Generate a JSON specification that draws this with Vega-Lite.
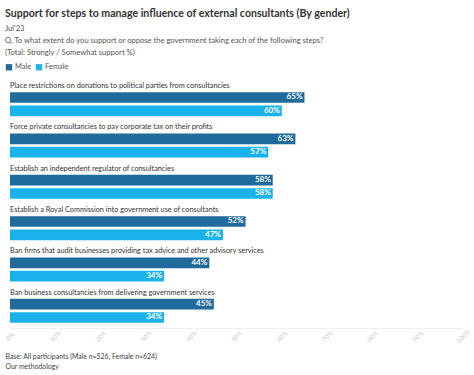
{
  "$schema": "https://vega.github.io/schema/vega-lite/v6.json",
  "width": 453,
  "height": 248,
  "autosize": {"type": "none"},
  "padding": {"left": 10, "top": 80, "right": 11, "bottom": 47},
  "background": "white",
  "config": {
    "font": "Lato",
    "view": {"stroke": null}
  },
  "title": {
    "text": "Support for steps to manage influence of external consultants (By gender)",
    "subtitle": ["Jul'23", "Q. To what extent do you support or oppose the government taking each of the following steps?", "(Total: Strongly / Somewhat support %)"],
    "anchor": "start",
    "frame": "group",
    "dx": -5,
    "fontSize": 10.6,
    "fontWeight": "bold",
    "color": "#333333",
    "subtitleFontSize": 7.6,
    "subtitleColor": "#555555",
    "subtitleLineHeight": 12,
    "subtitlePadding": 6,
    "offset": 6
  },
  "data": {
    "values": [
      {"category": "Place restrictions on donations to political parties from consultancies", "gender": "Male", "value": 65},
      {"category": "Place restrictions on donations to political parties from consultancies", "gender": "Female", "value": 60},
      {"category": "Force private consultancies to pay corporate tax on their profits", "gender": "Male", "value": 63},
      {"category": "Force private consultancies to pay corporate tax on their profits", "gender": "Female", "value": 57},
      {"category": "Establish an independent regulator of consultancies", "gender": "Male", "value": 58},
      {"category": "Establish an independent regulator of consultancies", "gender": "Female", "value": 58},
      {"category": "Establish a Royal Commission into government use of consultants", "gender": "Male", "value": 52},
      {"category": "Establish a Royal Commission into government use of consultants", "gender": "Female", "value": 47},
      {"category": "Ban firms that audit businesses providing tax advice and other advisory services", "gender": "Male", "value": 44},
      {"category": "Ban firms that audit businesses providing tax advice and other advisory services", "gender": "Female", "value": 34},
      {"category": "Ban business consultancies from delivering government services", "gender": "Male", "value": 45},
      {"category": "Ban business consultancies from delivering government services", "gender": "Female", "value": 34}
    ]
  },
  "encoding": {
    "y": {
      "field": "category",
      "type": "nominal",
      "sort": null,
      "axis": null,
      "scale": {"paddingInner": 0, "paddingOuter": 0}
    }
  },
  "layer": [
    {
      "mark": {"type": "bar"},
      "encoding": {
        "x": {
          "field": "value",
          "type": "quantitative",
          "scale": {"domain": [0, 100]},
          "axis": {
            "values": [0, 10, 20, 30, 40, 50, 60, 70, 80, 90, 100],
            "labelExpr": "datum.value + '%'",
            "labelAngle": -45,
            "labelAlign": "center",
            "labelBaseline": "middle",
            "labelColor": "#cccccc",
            "labelFontSize": 6.5,
            "labelPadding": 8,
            "labelOverlap": false,
            "labelBound": false,
            "ticks": false,
            "grid": false,
            "domainColor": "#eeeeee",
            "title": ["Base: All participants (Male n=526, Female n=624)", "Our methodology"],
            "titleAnchor": "start",
            "titleAlign": "left",
            "titleBaseline": "top",
            "titleX": -5,
            "titleY": 25,
            "titleFontSize": 6.9,
            "titleFontWeight": "normal",
            "titleColor": "#444444",
            "titleLineHeight": 10
          }
        },
        "yOffset": {
          "field": "gender",
          "type": "nominal",
          "sort": ["Male", "Female"],
          "scale": {"domain": ["Male", "Female"], "paddingInner": 0.2, "paddingOuter": 0.65, "align": 0.7}
        },
        "color": {
          "field": "gender",
          "type": "nominal",
          "sort": ["Male", "Female"],
          "scale": {"domain": ["Male", "Female"], "range": ["#1f6b9b", "#1ab2ea"]},
          "legend": {
            "title": null,
            "orient": "none",
            "direction": "horizontal",
            "legendX": -5,
            "legendY": -17,
            "symbolType": "square",
            "symbolSize": 40,
            "labelFontSize": 7.5,
            "labelColor": "#555555",
            "columnPadding": 3,
            "labelOffset": 2
          }
        }
      }
    },
    {
      "mark": {"type": "text", "align": "right", "baseline": "middle", "dx": -2, "color": "white", "fontWeight": "bold", "fontSize": 8, "text": {"expr": "datum.value + '%'"}},
      "encoding": {
        "x": {"field": "value", "type": "quantitative"},
        "yOffset": {"field": "gender", "type": "nominal", "sort": ["Male", "Female"]}
      }
    },
    {
      "transform": [{"filter": "datum.gender === 'Male'"}],
      "mark": {"type": "text", "align": "left", "baseline": "middle", "dy": 6, "color": "#333333", "fontSize": 7.3},
      "encoding": {
        "x": {"datum": 0, "type": "quantitative"},
        "y": {"field": "category", "type": "nominal", "sort": null, "bandPosition": 0},
        "text": {"field": "category"}
      }
    }
  ]
}
